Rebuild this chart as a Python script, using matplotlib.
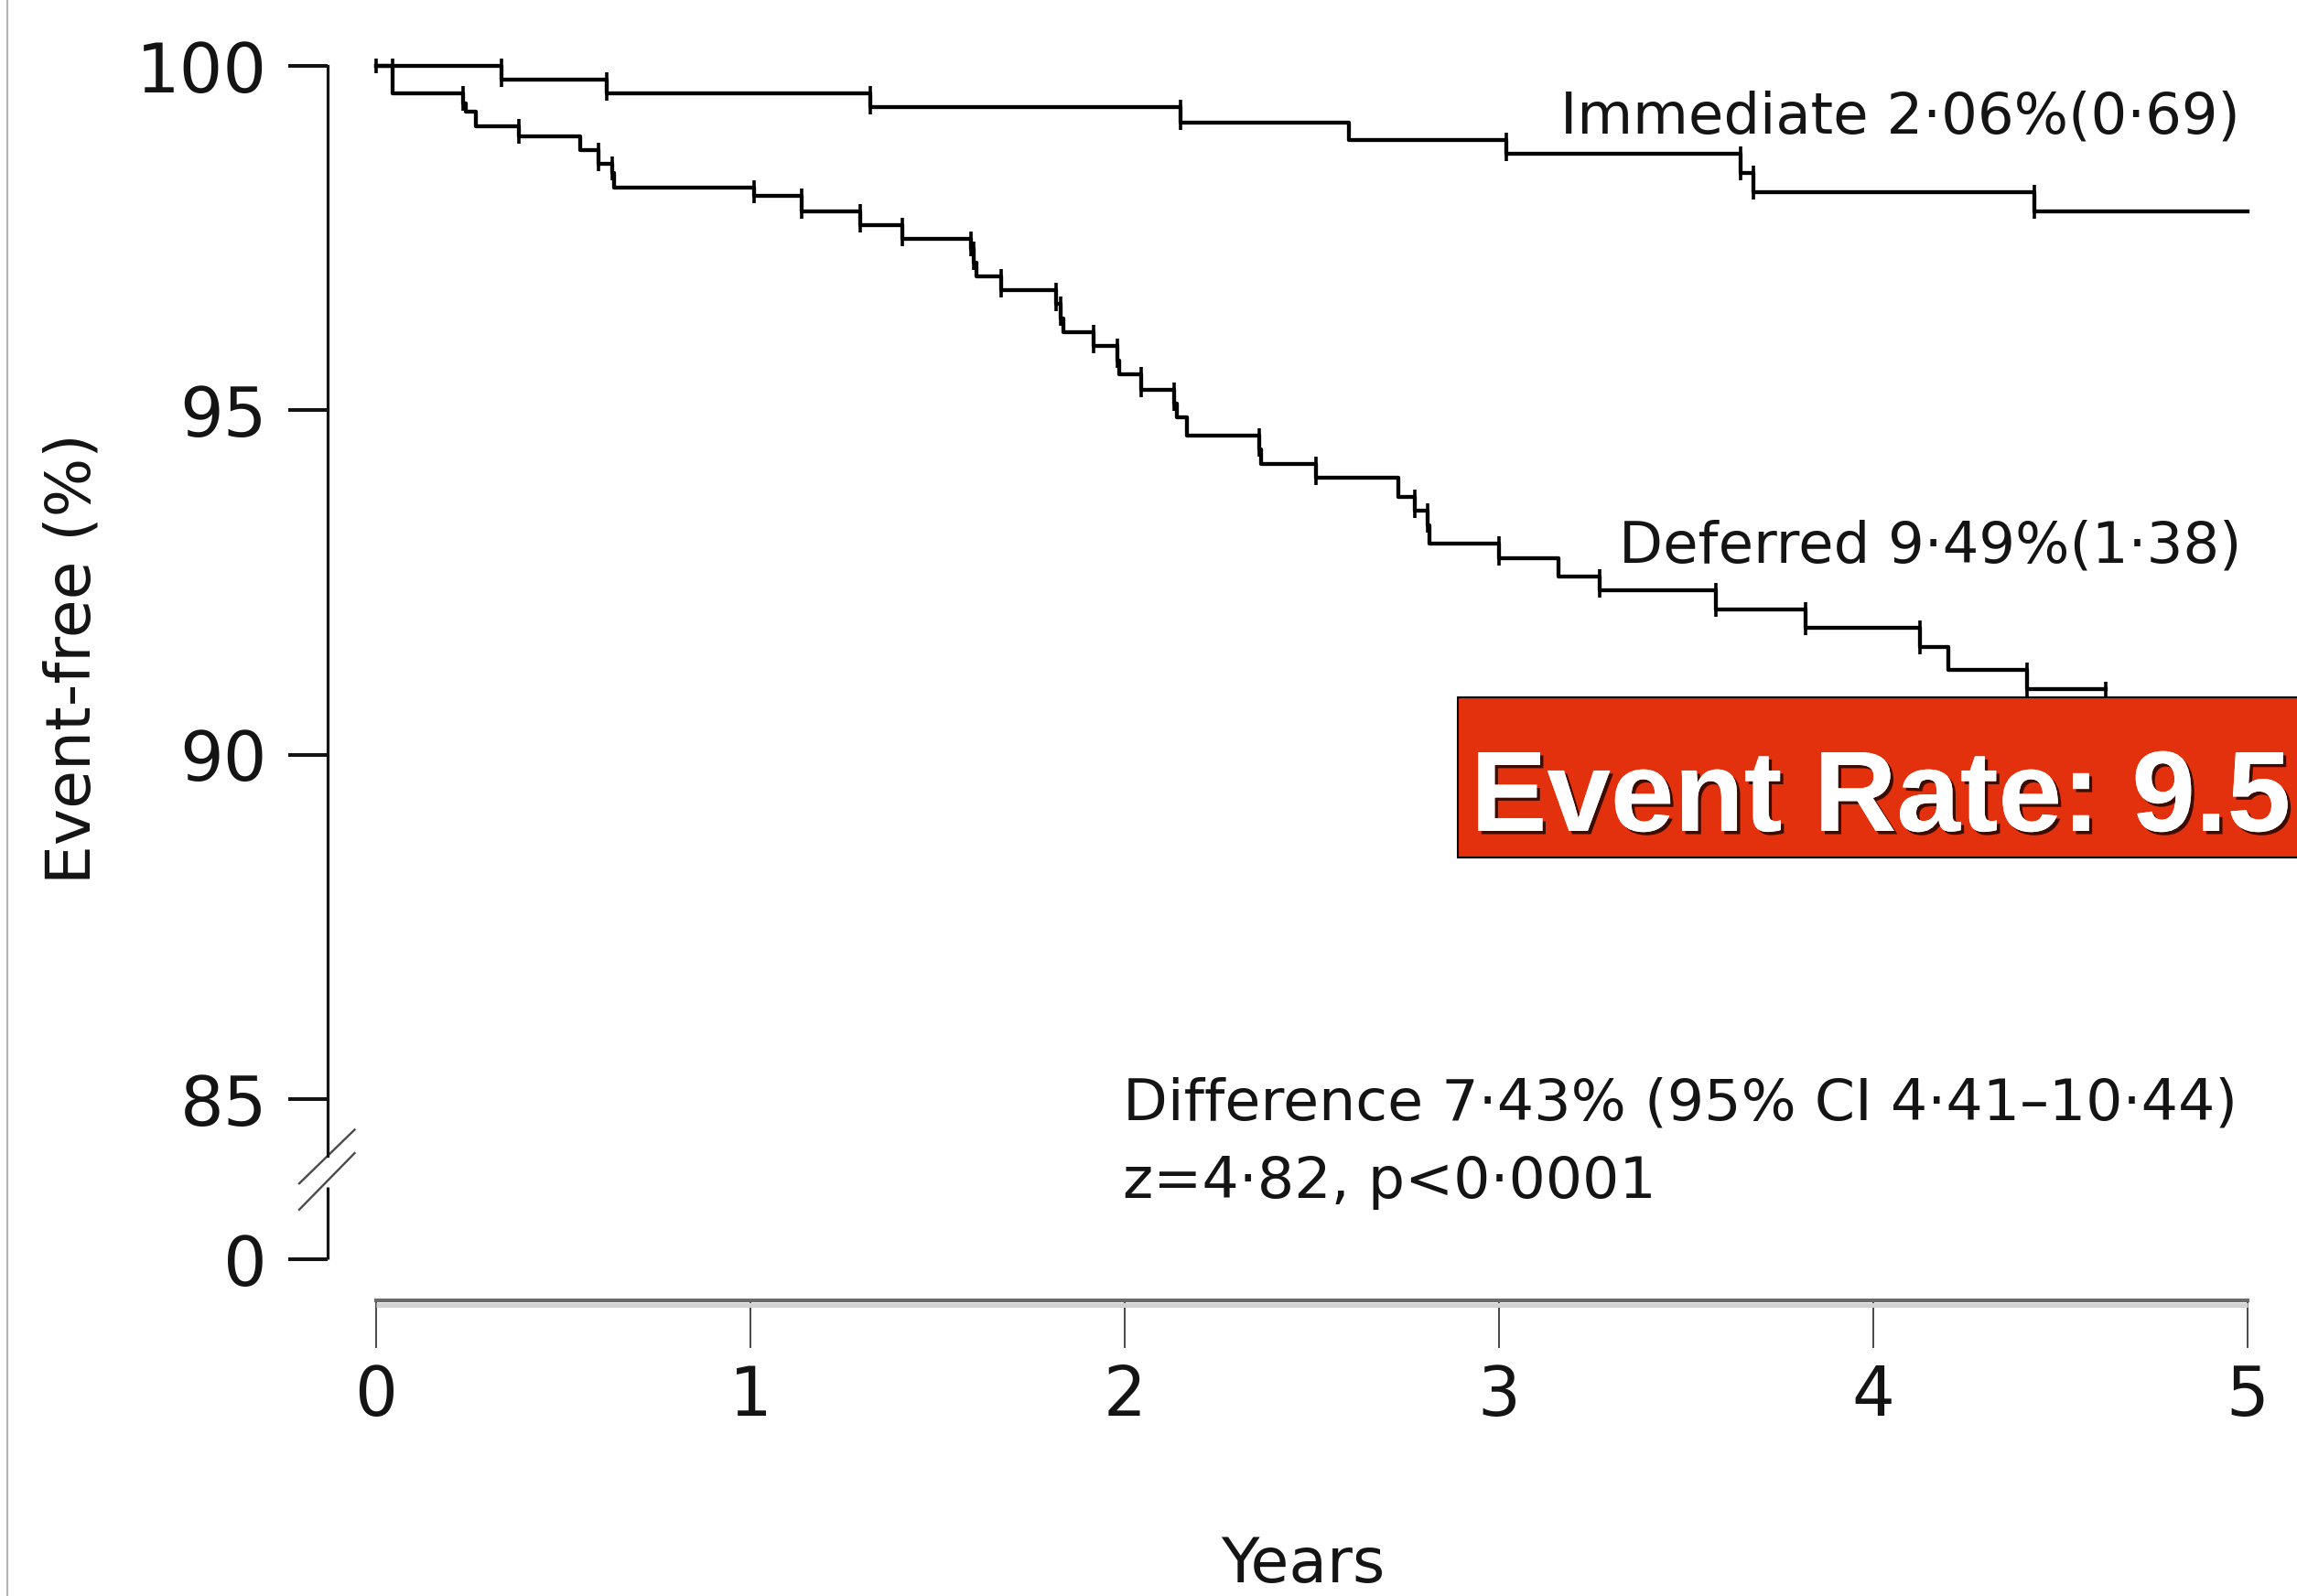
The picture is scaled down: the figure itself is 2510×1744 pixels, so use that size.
import numpy as np
import matplotlib.pyplot as plt
import matplotlib.patheffects as pe
from matplotlib.patches import Rectangle
from matplotlib.lines import Line2D

# step curves: time of each drop (years) and % event-free after it
immediate_times = [0.335, 0.615, 1.32, 2.15, 2.60, 3.02, 3.645, 3.68, 4.43]
immediate_values = [99.80, 99.60, 99.40, 99.18, 98.92, 98.72, 98.44, 98.17, 97.89]
immediate_end = 5.0
immediate_censor = [0.0, 0.045, 0.335, 0.615, 1.32, 2.15, 3.02, 3.645, 3.68, 4.43]

deferred_times = [0.045, 0.233, 0.24, 0.267, 0.382, 0.545, 0.594, 0.63, 0.635,
                  1.01, 1.138, 1.293, 1.405, 1.59, 1.597, 1.603, 1.67, 1.817,
                  1.83, 1.835, 1.918, 1.98, 1.985, 2.045, 2.132, 2.14, 2.167,
                  2.36, 2.365, 2.51, 2.73, 2.775, 2.81, 2.815, 3.0, 3.16, 3.27,
                  3.58, 3.82, 4.125, 4.20, 4.41]
deferred_values = [99.60, 99.45, 99.33, 99.13, 98.98, 98.78, 98.58, 98.44, 98.24,
                   98.11, 97.89, 97.69, 97.49, 97.35, 97.15, 96.94, 96.74, 96.54,
                   96.34, 96.14, 95.93, 95.72, 95.52, 95.30, 95.10, 94.90, 94.63,
                   94.43, 94.22, 94.02, 93.75, 93.54, 93.33, 93.07, 92.85, 92.59, 92.39,
                   92.11, 91.84, 91.56, 91.23, 90.96]
deferred_end = 4.62
deferred_censor = [0.233, 0.382, 0.594, 0.63, 1.01, 1.138, 1.293, 1.405, 1.59, 1.597,
                   1.67, 1.817, 1.83, 1.918, 1.98, 2.045, 2.132, 2.36, 2.51, 2.775,
                   2.81, 3.0, 3.27, 3.58, 3.82, 4.125, 4.41, 4.62]

x_ticks = [0, 1, 2, 3, 4, 5]
y_ticks = [85, 90, 95, 100]
y_zero_pos = 82.68   # where "0" sits below the axis break

immediate_label = 'Immediate 2·06%(0·69)'
deferred_label = 'Deferred 9·49%(1·38)'
diff_lines = ['Difference 7·43% (95% CI 4·41–10·44)', 'z=4·82, p<0·0001']
banner = 'Event Rate: 9.5'

W, H = 2510, 1744
INK = '#141414'


def km_steps(times, values, end):
    t = np.concatenate([[0.0], times, [end]])
    v = np.concatenate([[100.0], values, [values[-1]]])
    return t, v


def censor_points(times, values, censor):
    levels = np.concatenate([[100.0], values])
    xs, ys = [], []
    for c in censor:
        pre = levels[np.searchsorted(times, c, side='left')]
        post = levels[np.searchsorted(times, c, side='right')]
        for y in {pre, post}:
            xs.append(c)
            ys.append(y)
    return xs, ys


fig = plt.figure(figsize=(W / 100, H / 100), dpi=100)
ax = fig.add_axes([411 / W, 1 - 1376 / H, 2045 / W, 1304 / H])
ax.set_xlim(0, 5)
ax.set_ylim(y_zero_pos, 100)

for times, values, end, censor in [
        (immediate_times, immediate_values, immediate_end, immediate_censor),
        (deferred_times, deferred_values, deferred_end, deferred_censor)]:
    t, v = km_steps(times, values, end)
    ax.step(t, v, where='post', color='black', lw=3.1, clip_on=False, zorder=3)
    cx, cy = censor_points(times, values, censor)
    ax.plot(cx, cy, ls='none', marker='|', ms=11, mew=2.6, color='black',
            clip_on=False, zorder=3)

# axes styling
ax.spines['top'].set_visible(False)
ax.spines['right'].set_visible(False)
ax.spines['left'].set_position(('outward', 53 * 0.72))
ax.spines['left'].set_bounds(84.18, 100)
ax.spines['left'].set_linewidth(2.3)
ax.spines['left'].set_color(INK)
ax.spines['bottom'].set_position(('outward', 45 * 0.72))
ax.spines['bottom'].set_linewidth(3.0)
ax.spines['bottom'].set_color('#6a6a6a')

ax.set_yticks([y_zero_pos] + y_ticks, labels=['0'] + [str(v) for v in y_ticks])
ax.set_xticks(x_ticks, labels=[str(v) for v in x_ticks])
ax.tick_params(axis='y', length=31, width=2.9, pad=16.5, labelsize=54,
               color=INK, labelcolor=INK)
ax.tick_params(axis='x', length=37.4, width=1.2, pad=12, labelsize=53,
               color='#2a2a2a', labelcolor=INK)

# light under-band of the x axis line
xt = ax.get_xaxis_transform(which='tick1')
ax.plot([0, 5], [-4.5 / 1304, -4.5 / 1304], transform=xt, color='#d2d2d2',
        lw=3.6, clip_on=False, zorder=2, solid_capstyle='butt')

# lower piece of the broken y axis and the break slashes
yt = ax.get_yaxis_transform(which='tick1')
ax.plot([0, 0], [y_zero_pos, 83.73], transform=yt, color=INK, lw=2.3,
        clip_on=False, solid_capstyle='butt')
for y0, y1 in [(83.78, 84.56), (83.40, 84.22)]:
    ax.plot([-31 / 2045, 29.5 / 2045], [y0, y1], transform=yt, color='#4a4a4a',
            lw=1.7, clip_on=False)

ax.set_ylabel('Event-free (%)', fontsize=49, color=INK)
ax.yaxis.set_label_coords(-0.162, 0.503)
ax.yaxis.label.set_va('center')
ax.set_xlabel('Years', fontsize=49, color=INK)
ax.xaxis.set_label_coords(0.4954, -0.2705)
ax.xaxis.label.set_va('baseline')

ax.text(4.98, 99.03, immediate_label, ha='right', va='baseline', fontsize=45, color=INK)
ax.text(4.985, 92.79, deferred_label, ha='right', va='baseline', fontsize=45, color=INK)
ax.text(1.995, 84.71, diff_lines[0], ha='left', va='baseline', fontsize=45.6, color=INK)
ax.text(1.995, 83.57, diff_lines[1], ha='left', va='baseline', fontsize=45.6, color=INK)

# red overlay banner
fig.add_artist(Rectangle((1593 / W, 1 - 937 / H), (W + 20 - 1593) / W, 175 / H,
                         transform=fig.transFigure, facecolor='#E3300D',
                         edgecolor='black', lw=1.5))
fig.text(1607 / W, 1 - 908 / H, banner, fontsize=90, fontweight='bold',
         family='Liberation Sans', color='white', ha='left', va='baseline',
         path_effects=[pe.withSimplePatchShadow(offset=(2.5, -2.5),
                                                shadow_rgbFace='#2a0800', alpha=0.9),
                       pe.Normal()])

# thin page edge on the left
fig.add_artist(Line2D([8 / W, 8 / W], [0, 1], color='#b4b4b4', lw=1.5,
                      transform=fig.transFigure))

fig.savefig('out.png', dpi=100, facecolor='white')
